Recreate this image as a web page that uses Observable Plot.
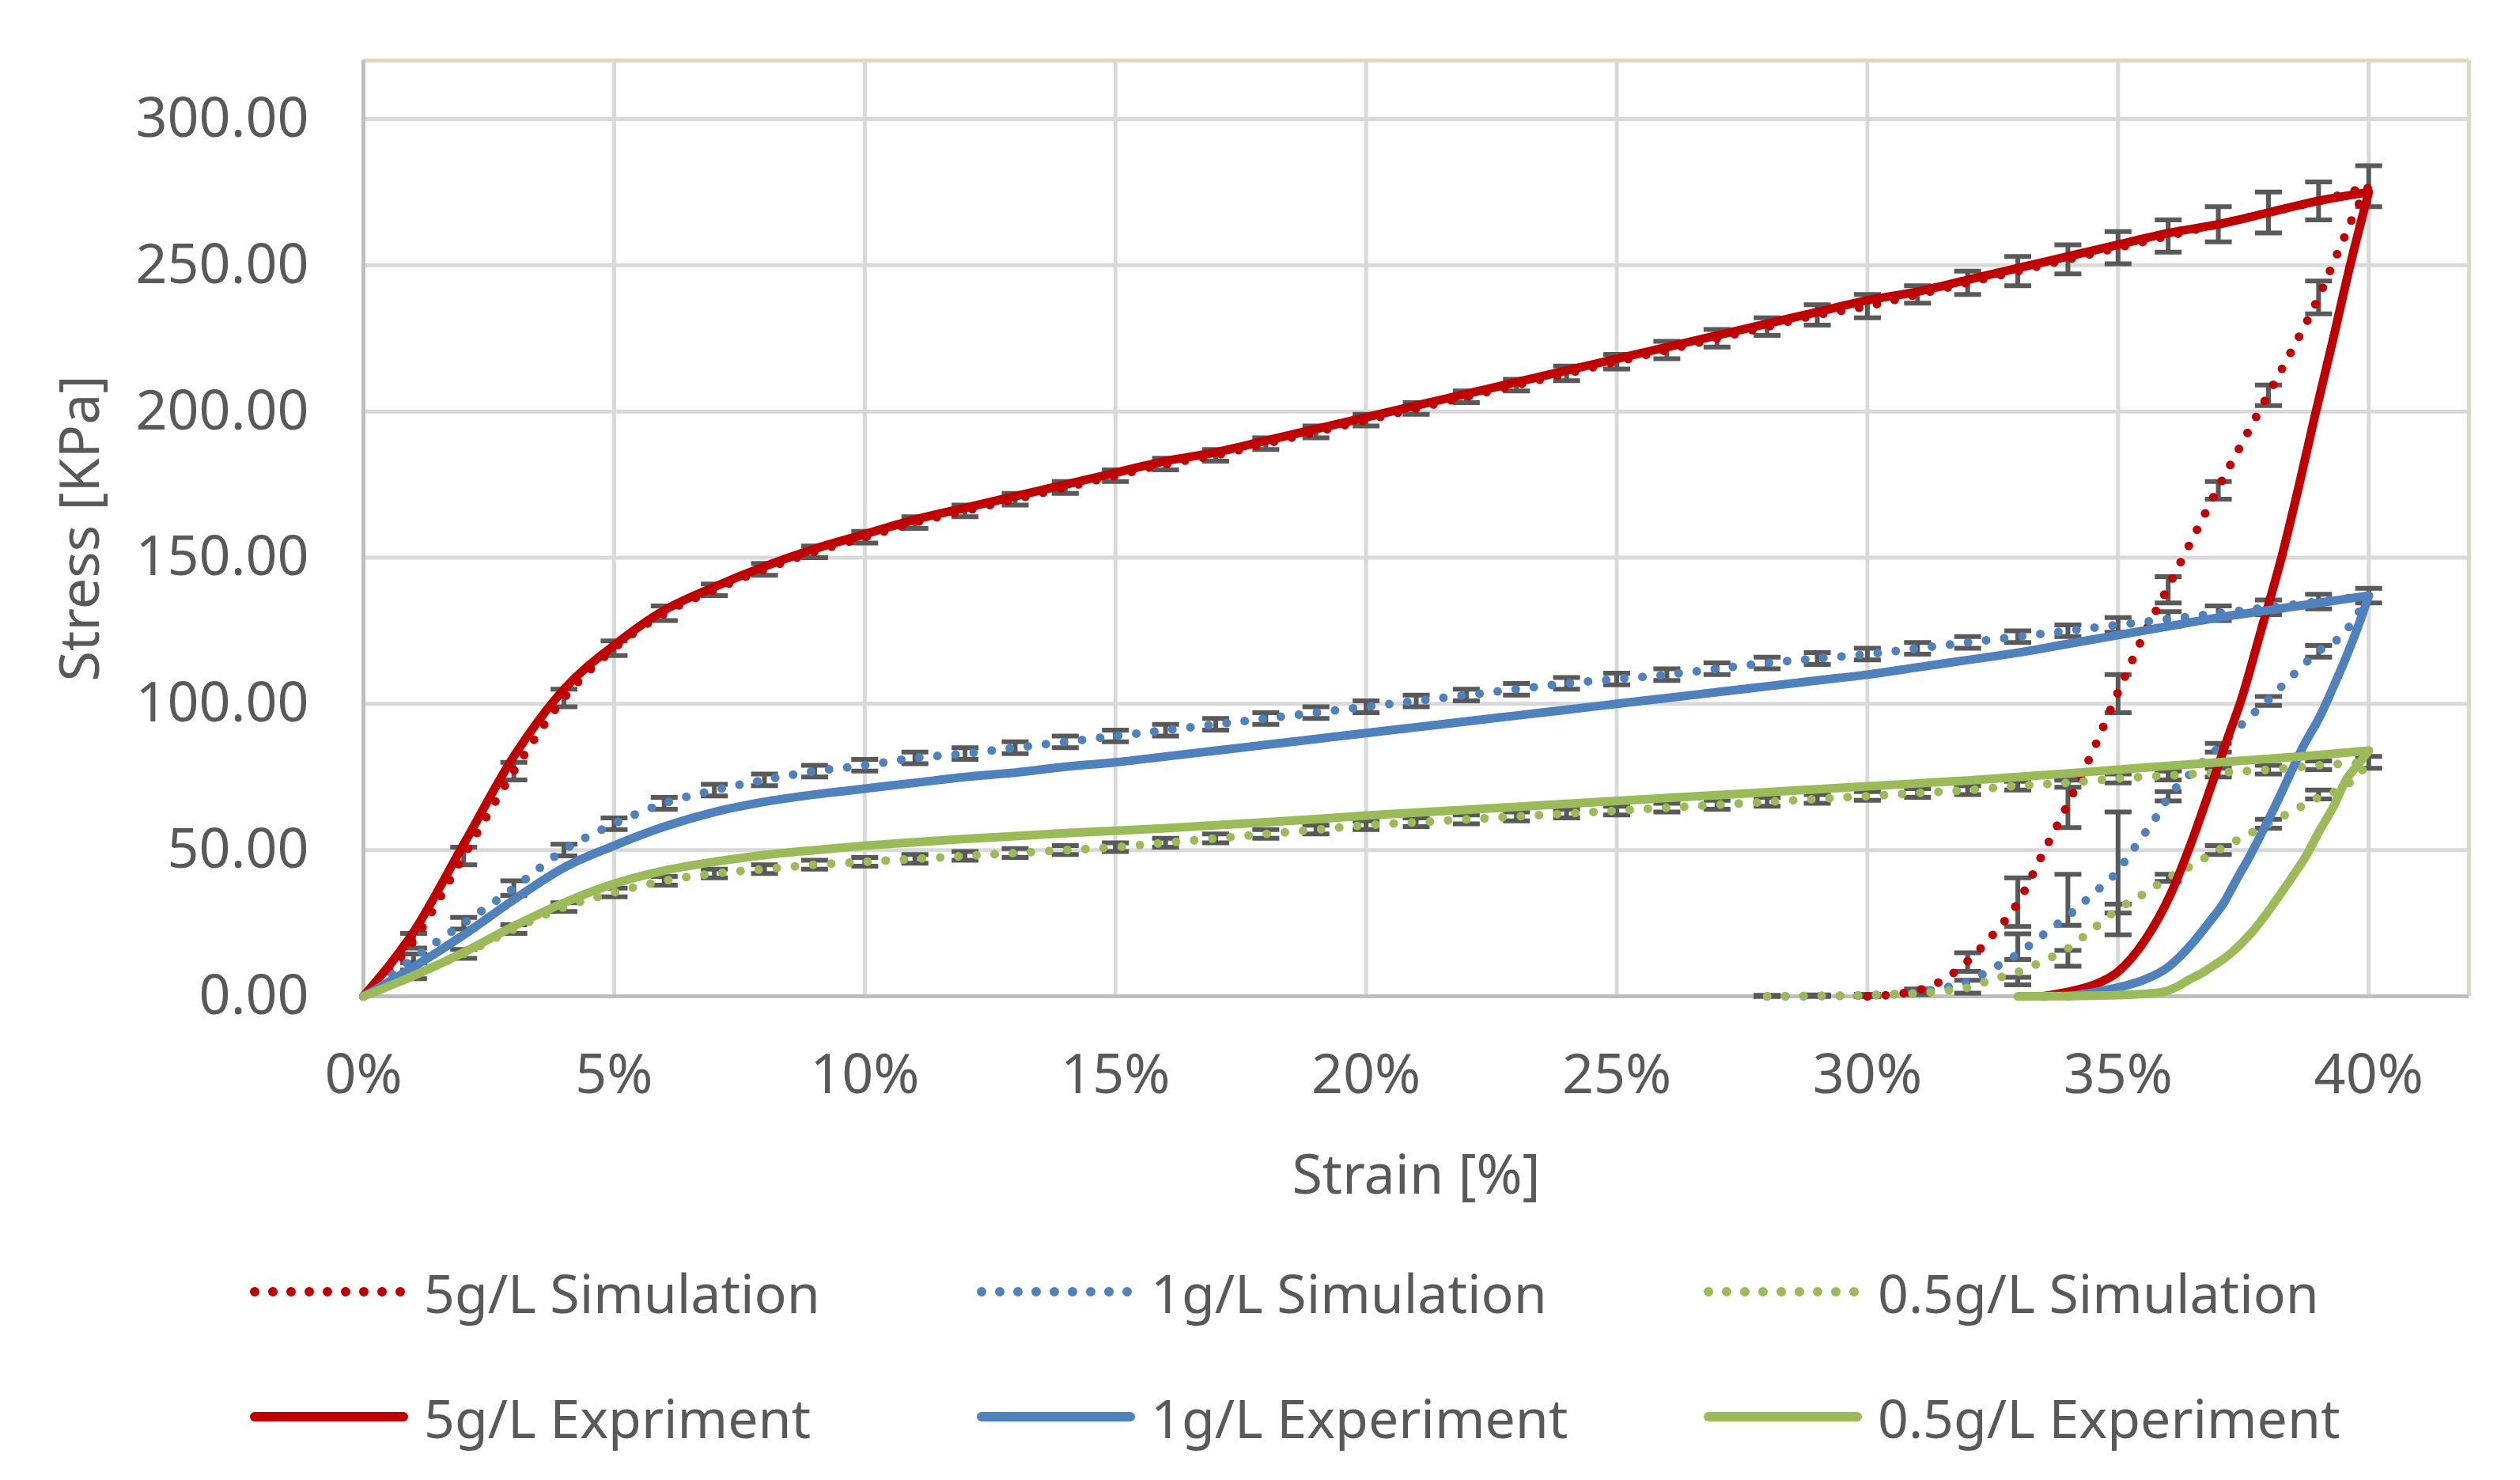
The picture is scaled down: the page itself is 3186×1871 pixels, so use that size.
<!DOCTYPE html>
<html>
<head>
<meta charset="utf-8">
<script src="https://cdn.jsdelivr.net/npm/d3@7"></script>
<script src="https://cdn.jsdelivr.net/npm/@observablehq/plot@0.6"></script>
<style>
  html, body { margin: 0; padding: 0; background: #ffffff; }
  body { width: 3186px; height: 1871px; overflow: hidden; font-family: "Noto Sans", sans-serif; color: #595959; }
  #legend { position: relative; width: 3186px; height: 341px; }
  .item { position: absolute; height: 90px; display: flex; align-items: center; font-size: 68px; color: #595959; white-space: nowrap; }
  .item svg { display: block; margin-right: 20px; }
</style>
</head>
<body>
<div id="chart"></div>
<div id="legend"></div>
<script>
// ---------- data ----------
const strainLoad = [0,1,2,3,4,5,6,7,8,9,10,11,12,13,14,15,16,17,18,19,20,21,22,23,24,25,26,27,28,29,30,31,32,33,34,35,36,37,38,39,40];

const sim5Load  = [0,19,48,77,102,119,131,139,146,152,157,162,166,170,174,178,182,185,189,193,197,201,205,209,213,217,221,225,229,233,236,240,244,248,252,256,260,264,268,272,277];
const exp5Load  = [0,22,52,82,105,120,132,140,147,153,158,163,167,171,175,179,183,186,190,194,198,202,206,210,214,218,222,226,230,234,238,241,245,249,253,257,261,264,268,272,275];
const sim1Load  = [0,13,25,37,50,59,66,70.5,74,77,79,81.5,83,85,87,89,91,93,95,97,99,101,103,105,107,108.5,110,112,114,115.5,117,119,121,123,125,127,129,131,133,135,137];
const exp1Load  = [0,10,21,33,44,51.5,58,63,66.5,69,71,73,75,76.5,78.5,80,82,84,86,88,90,92,94,96,98,100,102,104,106,108,110,112.5,115,117.5,120.5,123.5,126.5,129.5,132,134.5,137];
const sim05Load = [0,7.5,14.5,23,30.5,35.5,39.5,42,43.5,45,46,47,48,49,50,51,52.5,54,55.5,57,58.5,59.5,60.5,61.5,62.5,63.5,64.5,65.5,66.5,67.5,68.5,69.5,70.5,72,73,74.5,75.5,76.5,77.5,79,80];
const exp05Load = [0,7,15,24,32,38.5,43,46,48.3,50,51.5,52.7,53.8,54.8,55.8,56.6,57.5,58.5,59.5,60.6,61.8,62.8,63.8,64.8,65.8,66.8,67.8,68.8,69.8,70.8,71.8,72.8,73.8,75,76.2,77.5,78.8,80,81.2,82.5,84];

// unloading branches, listed by increasing strain: [strain %, stress kPa]
const sim5Unload  = [[30,0],[30.5,0.6],[31,2],[31.5,5.5],[32,12],[32.5,21],[33,32],[33.5,48.8],[34,65.8],[34.5,84],[35,104],[35.5,123],[36,140],[36.5,157],[37,174],[37.5,190],[38,206],[38.5,222],[39,239],[39.25,249],[39.5,259],[39.75,269],[40,277]];
const sim1Unload  = [[28,0],[29,0.1],[30,0.3],[30.5,0.7],[31,1.4],[31.5,2.8],[32,5],[32.5,9.5],[33,14.5],[33.5,21],[34,27.5],[34.5,35],[35,43],[35.25,49],[35.5,55],[35.75,61],[36,68],[36.5,77],[37,85],[37.5,93.5],[38,101.5],[38.5,110],[39,118],[39.5,124],[39.75,130],[40,137]];
const sim05Unload = [[28,0],[29,0.15],[30,0.4],[31,1],[31.5,1.8],[32,3],[32.5,5.8],[33,8.3],[33.5,12],[34,16.4],[34.5,23],[35,29.8],[35.5,34.9],[36,40.5],[36.5,45],[37,50],[37.5,54.5],[38,59],[38.5,63.5],[39,68],[39.5,71.5],[39.75,75],[40,80]];
const exp5Unload  = [[33.5,0],[34,1.5],[34.5,3.8],[35,8.4],[35.53,19],[36.05,35],[36.47,53],[36.9,74],[37.2,89],[37.45,101],[37.85,125],[38.26,150],[38.6,174],[38.92,198],[39.28,224],[39.63,250],[40,275]];
const exp1Unload  = [[34,0],[34.5,1.3],[35,3],[35.5,5.5],[36,10],[36.5,18.5],[36.85,26],[37.1,31.7],[37.35,39.5],[37.63,48],[37.9,57],[38.16,66],[38.42,75.5],[38.68,85],[39.05,96.5],[39.3,106],[39.55,116],[39.8,127],[40,137]];
const exp05Unload = [[33,0],[34,0.1],[34.5,0.2],[35,0.4],[35.5,0.8],[35.9,1.5],[36.2,3.5],[36.42,5.7],[36.7,8.2],[36.95,11],[37.2,14],[37.42,17.4],[37.7,22.5],[37.95,28],[38.2,34],[38.47,40.7],[38.75,48],[39,56],[39.3,65],[39.55,74],[39.8,79.5],[40,84]];

// error-bar half widths on the loading branch (index = strain %)
const err5Load  = [0,2.5,3,3,3,2.5,2.5,2,2,2,2,2,2,2,2,2,2,2,2,2,2,2,2,2,2.5,2.5,3,3,3,3.5,4,3,4,5,5,5.5,5.5,6,7,6.5,7];
const err1Load  = [0,1.5,2,2.5,2,2,2,2,2,2,2,2,2,2,2,2,2,2,2,2,2,2,2,2,2,2,2,2,2,2,2,2,2,2,2,2.5,2.5,2.5,2.5,2.5,2.5];
const err05Load = [0,1.5,1.5,1.5,1.5,1.5,1.5,1.5,1.5,1.5,1.5,1.5,1.5,1.5,1.5,1.5,1.5,1.5,1.5,1.5,1.5,1.5,1.5,1.5,1.5,1.5,1.5,1.5,1.5,1.5,1.5,1.5,1.5,1.5,1.5,1.5,1.5,1.5,1.5,1.5,2];
// error bars on the unloading branch: [strain %, centre, half width]
const err5Unload  = [[39,239,5.6],[38,205.5,3.5],[37,173,3],[36,139,4.5],[35,103.5,6.5],[34,65.8,8.1],[33,32.2,8.3],[32,11.7,3.2],[31,2,0.5],[30,0.2,0.3]];
const err1Unload  = [[39,118,2],[38,101,1.5],[37,85,1.5],[36,68.4,1.6],[35,42,21],[34,33,8.7],[33,17,4.4],[32,3.3,2.2],[31,1.4,0.5],[30,0.3,0.3],[29,0.1,0.3],[28,0,0.3]];
const err05Unload = [[39,69,1.5],[38,59,1.5],[37,50,1.5],[36,40.5,1.2],[35,30,1.5],[34,13,2.7],[33,5.2,1.3],[31,1,0.4],[30,0.4,0.3],[29,0.15,0.3],[28,0,0.3]];

const xTicks = [0,5,10,15,20,25,30,35,40];
const yTicks = [0,50,100,150,200,250,300];

const seriesNames = ["5g/L Simulation","1g/L Simulation","0.5g/L Simulation","5g/L Expriment","1g/L Experiment","0.5g/L Experiment"];
const seriesColors = ["#C00000","#4F81BD","#9BBB59","#C00000","#4F81BD","#9BBB59"];

// ---------- build tables ----------
const loadSets = [sim5Load, sim1Load, sim05Load, exp5Load, exp1Load, exp05Load];
const unloadSets = [sim5Unload, sim1Unload, sim05Unload, exp5Unload, exp1Unload, exp05Unload];
const lineRows = loadSets.map((arr, s) => ({
  load: arr.map((v, i) => ({x: strainLoad[i], y: v})),
  unload: unloadSets[s].map(([x, y]) => ({x, y}))
}));

const errBars = [];
[[sim5Load, err5Load], [sim1Load, err1Load], [sim05Load, err05Load]].forEach(([vals, errs]) => {
  strainLoad.forEach((x, i) => { if (i > 0) errBars.push({x, lo: vals[i] - errs[i], hi: vals[i] + errs[i]}); });
});
[err5Unload, err1Unload, err05Unload].forEach(list => {
  list.forEach(([x, c, h]) => errBars.push({x, lo: Math.max(0, c - h), hi: c + h}));
});
const caps = errBars.flatMap(d => [{x: d.x, y: d.lo}, {x: d.x, y: d.hi}]);

const capSymbol = {
  draw(ctx, size) { const w = Math.sqrt(size / Math.PI); ctx.moveTo(-w, 0); ctx.lineTo(w, 0); }
};

const gridStyle = {stroke: "#D9D9D9", strokeOpacity: 1, strokeWidth: 5};
const marks = [
  Plot.gridX(xTicks.filter(v => v > 0), gridStyle),
  Plot.gridY(yTicks.filter(v => v > 0), gridStyle),
  Plot.ruleY([320], {stroke: "#DDD9C3", strokeWidth: 5}),
  Plot.ruleX([42], {stroke: "#DDD9C3", strokeWidth: 5}),
  Plot.ruleX([0], {stroke: "#BFBFBF", strokeWidth: 5}),
  Plot.ruleY([0], {stroke: "#BFBFBF", strokeWidth: 5}),
  Plot.axisX(xTicks, {tickSize: 0, tickPadding: 73, tickFormat: d => d + "%", label: null, fill: "#595959"}),
  Plot.axisY(yTicks, {tickSize: 0, tickPadding: 69, tickFormat: d => d.toFixed(2), label: null, fill: "#595959"}),
  Plot.ruleX(errBars, {x: "x", y1: "lo", y2: "hi", stroke: "#595959", strokeWidth: 6}),
  Plot.dot(caps, {x: "x", y: "y", symbol: capSymbol, r: 17, fill: "none", stroke: "#595959", strokeWidth: 6})
];
// simulation (dotted) first, then experiment (solid) on top
[0,1,2,3,4,5].forEach(s => {
  const dotted = s < 3;
  const opts = {
    x: "x", y: "y", stroke: seriesColors[s], strokeWidth: 11,
    strokeLinecap: "round", strokeLinejoin: "round", curve: "monotone-x"
  };
  if (dotted) opts.strokeDasharray = "0 23";
  marks.push(Plot.line(lineRows[s].load, opts));
  marks.push(Plot.line(lineRows[s].unload, opts));
});
marks.push(Plot.text(["Strain [%]"], {frameAnchor: "bottom", dy: 227, lineAnchor: "middle", textAnchor: "middle", fill: "#595959", fontSize: 70}));
marks.push(Plot.text(["Stress [KPa]"], {frameAnchor: "left", dx: -357, rotate: -90, lineAnchor: "middle", textAnchor: "middle", fill: "#595959", fontSize: 70}));

const chart = Plot.plot({
  width: 3186,
  height: 1530,
  marginLeft: 459,
  marginRight: 65,
  marginTop: 76,
  marginBottom: 271,
  style: {fontFamily: "'Noto Sans', sans-serif", fontSize: "70px", color: "#595959", background: "#ffffff"},
  x: {domain: [0, 42]},
  y: {domain: [0, 320]},
  marks
});
document.getElementById("chart").appendChild(chart);

// ---------- legend ----------
const legend = document.getElementById("legend");
const colX = [316, 1235, 2154];
const rowCenter = [103, 261];
seriesNames.forEach((name, s) => {
  const col = s % 3, row = Math.floor(s / 3);
  const item = document.createElement("div");
  item.className = "item";
  item.style.left = colX[col] + "px";
  item.style.top = (rowCenter[row] - 45) + "px";
  const ns = "http://www.w3.org/2000/svg";
  const svg = document.createElementNS(ns, "svg");
  svg.setAttribute("width", "200"); svg.setAttribute("height", "20");
  const ln = document.createElementNS(ns, "line");
  ln.setAttribute("x1", "6"); ln.setAttribute("x2", "194");
  ln.setAttribute("y1", "10"); ln.setAttribute("y2", "10");
  ln.setAttribute("stroke", seriesColors[s]);
  ln.setAttribute("stroke-width", "12");
  ln.setAttribute("stroke-linecap", "round");
  if (s < 3) ln.setAttribute("stroke-dasharray", "0 23");
  svg.appendChild(ln);
  item.appendChild(svg);
  const span = document.createElement("span");
  span.textContent = name;
  item.appendChild(span);
  legend.appendChild(item);
});
</script>
</body>
</html>
